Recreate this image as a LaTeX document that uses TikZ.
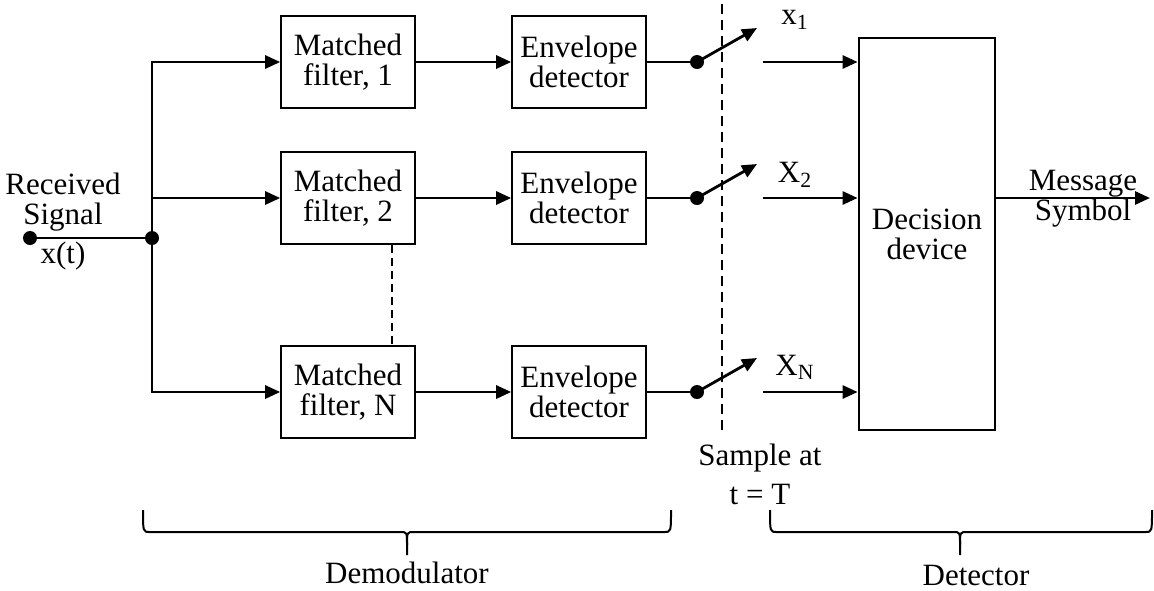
\documentclass[tikz,border=0pt]{standalone}
\usepackage{fontspec}
\setmainfont{Liberation Serif}
\usetikzlibrary{arrows.meta,positioning,calc}
\tikzset{
  >={Triangle[length=7.5pt,width=6.5pt]},
  txt/.style={font=\fontsize{15.5}{15}\selectfont,align=center,inner sep=0pt},
  block/.style={txt,draw,line width=0.8pt,minimum width=67pt,minimum height=46pt},
  wire/.style={line width=1.4pt},
  dot/.style={circle,fill,inner sep=0pt,minimum size=7pt},
  sample/.style={line width=1.4pt,dash pattern=on 5pt off 3pt},
  gap line/.style={line width=0.9pt,dash pattern=on 4pt off 2.5pt},
  bracket/.style={line width=1pt},
}
\begin{document}
\begin{tikzpicture}[x=0.5pt,y=-0.5pt]
  \useasboundingbox (0,0) rectangle (1154,590);
  % input
  \node[dot] (in) at (30,238) {};
  \node[dot] (split) at (152,238) {};
  \node[txt] (rx) at (63,202) {Received\\Signal};
  \node[txt] (xt) at (63,256) {x(t)};
  % branches
  \foreach \r/\y in {1/62,2/198,N/392} {
    \node[block] (mf\r) at (348,\y) {Matched\\filter, \r};
    \node[block] (env\r) at (579,\y) {Envelope\\detector};
    \node[dot] (sw\r) at (697,\y) {};
    \coordinate (arm\r) at (757,\y-34);
    \coordinate (out\r) at (763,\y);
  }
  \node[block,line width=1.4pt,minimum width=68pt,minimum height=196pt] (dec) at (927,234) {Decision\\device};
  \draw[wire] (in) -- (split);
  \foreach \r in {1,2,N} {
    \draw[wire,->] (split) |- (mf\r);
    \draw[wire,->] (mf\r) -- (env\r);
    \draw[wire] (env\r) -- (sw\r);
    \draw[wire,->] (sw\r.center) -- (arm\r);
    \draw[wire,->] (out\r) -- (out\r -| dec.west);
  }
  \draw[gap line] ([xshift=22pt]mf2.south) -- ([xshift=22pt]mfN.north);
  % sampling
  \coordinate (stop) at (722,4);
  \coordinate (sbot) at (722,430);
  \draw[sample] (stop) -- (sbot);
  \node[txt] (lx1) at (795,20) {x\textsubscript{1}};
  \node[txt] (lx2) at (795,175) {X\textsubscript{2}};
  \node[txt] (lxN) at (795,367) {X\textsubscript{N}};
  \node[txt] (samp) at (760,458) {Sample at};
  \node[txt] (tT) at (760,494) {t = T};
  % output
  \coordinate (msg) at (1150,198);
  \draw[wire,->] (dec.east |- msg) -- (msg);
  \node[txt] (msgl) at (1083,199) {Message\\Symbol};
  % braces
  \draw[bracket] (143,510) .. controls (143,532) .. (150,532) -- (400,532)
    .. controls (407,532) .. (407,545) -- (407,555);
  \draw[bracket] (407,545) .. controls (407,532) .. (414,532) -- (664,532)
    .. controls (671,532) .. (671,510);
  \draw[bracket] (770,510) .. controls (770,532) .. (777,532) -- (953,532)
    .. controls (960,532) .. (960,545) -- (960,555);
  \draw[bracket] (960,545) .. controls (960,532) .. (967,532) -- (1145,532)
    .. controls (1152,532) .. (1152,510);
  \node[txt] (demod) at (407,573) {Demodulator};
  \node[txt] (det) at (976,575) {Detector};
\end{tikzpicture}
\end{document}
